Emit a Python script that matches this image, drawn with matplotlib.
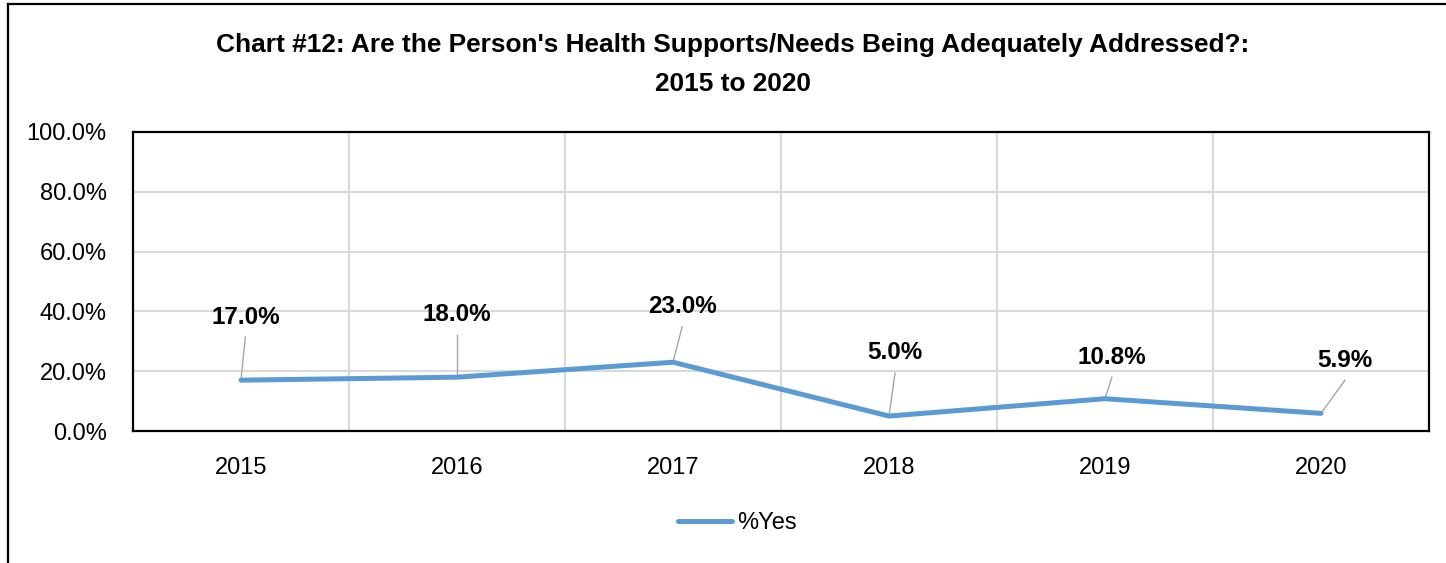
import numpy as np
import matplotlib.pyplot as plt
from matplotlib.lines import Line2D
from matplotlib.ticker import FuncFormatter

# Chart #12 - % Yes by year
years = ['2015', '2016', '2017', '2018', '2019', '2020']
pct_yes = [17.0, 18.0, 23.0, 5.0, 10.8, 5.9]
labels = ['17.0%', '18.0%', '23.0%', '5.0%', '10.8%', '5.9%']

# where the data labels sit (x offset in categories, y in axis units)
label_dx = [0.02, 0.0, 0.042, 0.028, 0.032, 0.111]
label_y = [38.1, 38.8, 41.5, 26.1, 24.7, 23.7]

plt.rcParams['font.family'] = ['Liberation Sans', 'DejaVu Sans']

fig = plt.figure(figsize=(14.46, 5.63), dpi=100)
ax = fig.add_axes([133 / 1446, 1 - 431 / 563, (1429 - 133) / 1446, (431 - 132) / 563])

X = np.arange(len(years))
ax.plot(X, pct_yes, color='#5B9BD5', linewidth=3.6, solid_capstyle='round', zorder=3,
        label='%Yes')

# data labels with grey leader lines
for i, (v, lab) in enumerate(zip(pct_yes, labels)):
    lx = X[i] + label_dx[i]
    ly = label_y[i]
    ax.text(lx, ly, lab, ha='center', va='center', fontsize=17.5, fontweight='bold', zorder=4)
    ax.plot([X[i], lx], [v, ly - 6.7], color='#A6A6A6', linewidth=1.0, zorder=2)

ax.set_xlim(-0.5, len(years) - 0.5)
ax.set_ylim(0, 100)
ax.set_yticks(np.arange(0, 101, 20))
ax.yaxis.set_major_formatter(FuncFormatter(lambda v, p: '%.1f%%' % v))
ax.set_xticks(X)
ax.set_xticklabels(years)
ax.set_xticks(X[:-1] + 0.5, minor=True)
ax.tick_params(axis='both', which='both', length=0, labelsize=17, pad=19)

ax.grid(axis='y', which='major', color='#D9D9D9', linewidth=1.5)
ax.grid(axis='x', which='minor', color='#D9D9D9', linewidth=1.5)
ax.set_axisbelow(True)
for s in ax.spines.values():
    s.set_linewidth(1.6)
    s.set_color('black')

fig.text(733 / 1446, 1 - 45 / 563,
         "Chart #12: Are the Person's Health Supports/Needs Being Adequately Addressed?:",
         ha='center', va='center', fontsize=18.9, fontweight='bold')
fig.text(733 / 1446, 1 - 84 / 563, "2015 to 2020",
         ha='center', va='center', fontsize=18.9, fontweight='bold')

fig.legend(loc='center', bbox_to_anchor=(737 / 1446, 1 - 523 / 563), frameon=False,
           fontsize=17, handlelength=2.3, handletextpad=0.2)

# outer chart border (left and top visible)
fig.add_artist(Line2D([8 / 1446, 8 / 1446], [0, 1 - 4 / 563], color='black', linewidth=1.6))
fig.add_artist(Line2D([8 / 1446, 1], [1 - 4 / 563, 1 - 4 / 563], color='black', linewidth=1.6))

fig.savefig('out.png', dpi=100, facecolor='white')
